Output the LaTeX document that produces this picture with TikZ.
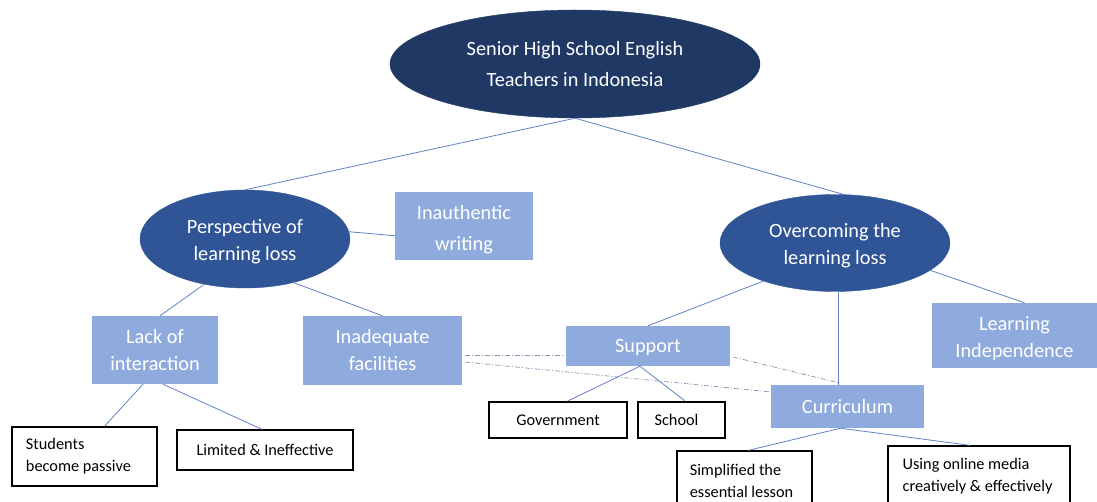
\documentclass[tikz,border=0pt]{standalone}
\usepackage{fontspec}
\setmainfont{Carlito}
\usetikzlibrary{shapes.geometric,calc}

\definecolor{navy}{HTML}{203864}
\definecolor{midblue}{HTML}{2F5597}
\definecolor{paleblue}{HTML}{8FAADC}
\definecolor{linkblue}{HTML}{5F83C2}
\definecolor{dashgray}{HTML}{8494B0}

\tikzset{
  topic/.style={ellipse, inner sep=0pt, align=center, text=white,
    font=\fontsize{20.3}{27}\selectfont},
  rootnode/.style={topic, fill=navy, draw=navy,
    font=\fontsize{20.3}{31}\selectfont},
  subnode/.style={topic, fill=midblue, draw=midblue},
  facet/.style={rectangle, inner sep=0pt, align=center, text=white,
    fill=paleblue, font=\fontsize{20.3}{27}\selectfont},
  leaf/.style={rectangle, inner sep=0pt, align=left, text=black,
    fill=white, draw=black, line width=1.3pt,
    font=\fontsize{16.3}{22}\selectfont},
  % white text set a little below the centre of its shape
  dropped/.style={align=center, text=white, inner sep=0pt,
    font=\fontsize{20.3}{#1}\selectfont},
  dropped/.default=27,
  link/.style={draw=linkblue, line width=0.8pt},
  crosslink/.style={draw=dashgray, line width=0.7pt,
    dash pattern=on 5pt off 2pt on 1pt off 2pt}
}

\begin{document}
\begin{tikzpicture}[x=1pt,y=-1pt]
\useasboundingbox (0,0) rectangle (1097,502);
\clip (0,0) rectangle (1097,502);

% main topic and the two branches
\node[rootnode, minimum width=370pt, minimum height=108pt] (root) at (575,64)
  {Senior High School English\\Teachers in Indonesia};
\node[subnode, minimum width=210pt, minimum height=98pt] (persp) at (245,239) {};
\node[dropped] (persp-t) at ([yshift=-3pt]persp.center) {Perspective of\\learning loss};
\node[subnode, minimum width=230pt, minimum height=97pt] (over) at (835,243) {};
\node[dropped] (over-t) at ([yshift=-3pt]over.center) {Overcoming the\\learning loss};

% second-level boxes
\node[facet, minimum width=138pt, minimum height=68pt] (inauth) at (464,226) {};
\node[dropped=31] (inauth-t) at ([yshift=-3.5pt]inauth.center) {Inauthentic\\writing};
\node[facet, minimum width=165pt, minimum height=65pt] (indep) at (1014.5,335.5) {};
\node[dropped] (indep-t) at ([yshift=-3pt]indep.center) {Learning\\Independence};
\node[facet, minimum width=126pt, minimum height=68pt] (lack) at (155,350)
  {Lack of\\interaction};
\node[facet, minimum width=159pt, minimum height=69pt] (facil) at (382.5,350.5)
  {Inadequate\\facilities};
\node[facet, minimum width=164pt, minimum height=40pt] (support) at (648,346) {};
\node[dropped] (support-t) at ([yshift=-1.5pt]support.center) {Support};
\node[facet, minimum width=153pt, minimum height=43pt] (curric) at (847.5,406.5)
  {Curriculum};

% outcome boxes
\node[leaf, minimum width=145pt, minimum height=59pt] (passive) at (84.5,456.5)
  {Students\\become passive\hspace*{12pt}};
\node[leaf, minimum width=176pt, minimum height=40pt] (limited) at (265,450)
  {Limited \& Ineffective};
\node[leaf, minimum width=138pt, minimum height=36pt] (gov) at (558,420)
  {Government};
\node[leaf, minimum width=87pt, minimum height=36pt] (school) at (681.5,420)
  {School\hspace*{10pt}};
\node[leaf, minimum width=135pt, minimum height=59pt] (simple) at (744.5,480.5)
  {Simplified the\\essential lesson\hspace*{6pt}};
\node[leaf, minimum width=182pt, minimum height=60pt] (media) at (979,476)
  {Using online media\\creatively \& effectively\hspace*{3pt}};

% tree connectors
\draw[link] (root.south) -- (persp.north);
\draw[link] (root.south) -- ([xshift=8pt]over.north);
\draw[link] (persp.4) -- (inauth.188);
\draw[link] (persp.228) -- ([xshift=5pt]lack.north);
\draw[link] (persp.318) -- (facil.north);
\draw[link] (over.208) -- (support.north);
\draw[link] ([xshift=3pt]over.south) -- ([xshift=3pt]over.south |- curric.north);
\draw[link] (over.344) -- ([xshift=10pt]indep.north);
\draw[link] ([xshift=-12pt]lack.south) -- ([xshift=20pt]passive.north);
\draw[link] ([xshift=8pt]lack.south) -- ([xshift=-3pt]limited.north);
\draw[link] ([xshift=-8pt]support.south) -- ([xshift=9pt]gov.north);
\draw[link] ([xshift=-8pt]support.south) -- ([xshift=4pt]school.north);
\draw[link] ([xshift=-7pt]curric.south) -- ([xshift=4pt]simple.north);
\draw[link] ([xshift=-7pt]curric.south) -- ([xshift=-9pt]media.north);

% cross links between related boxes
\draw[crosslink] ([xshift=3pt,yshift=-4.5pt]facil.east) -- ([xshift=-3pt,yshift=-9pt]support.west);
\draw[crosslink] ([xshift=3pt,yshift=-11.5pt]facil.east) -- ([yshift=14.5pt]curric.west);
\draw[crosslink] ([xshift=3pt,yshift=-11pt]support.east) -- ([xshift=-9pt,yshift=2pt]curric.north);
\end{tikzpicture}
\end{document}
